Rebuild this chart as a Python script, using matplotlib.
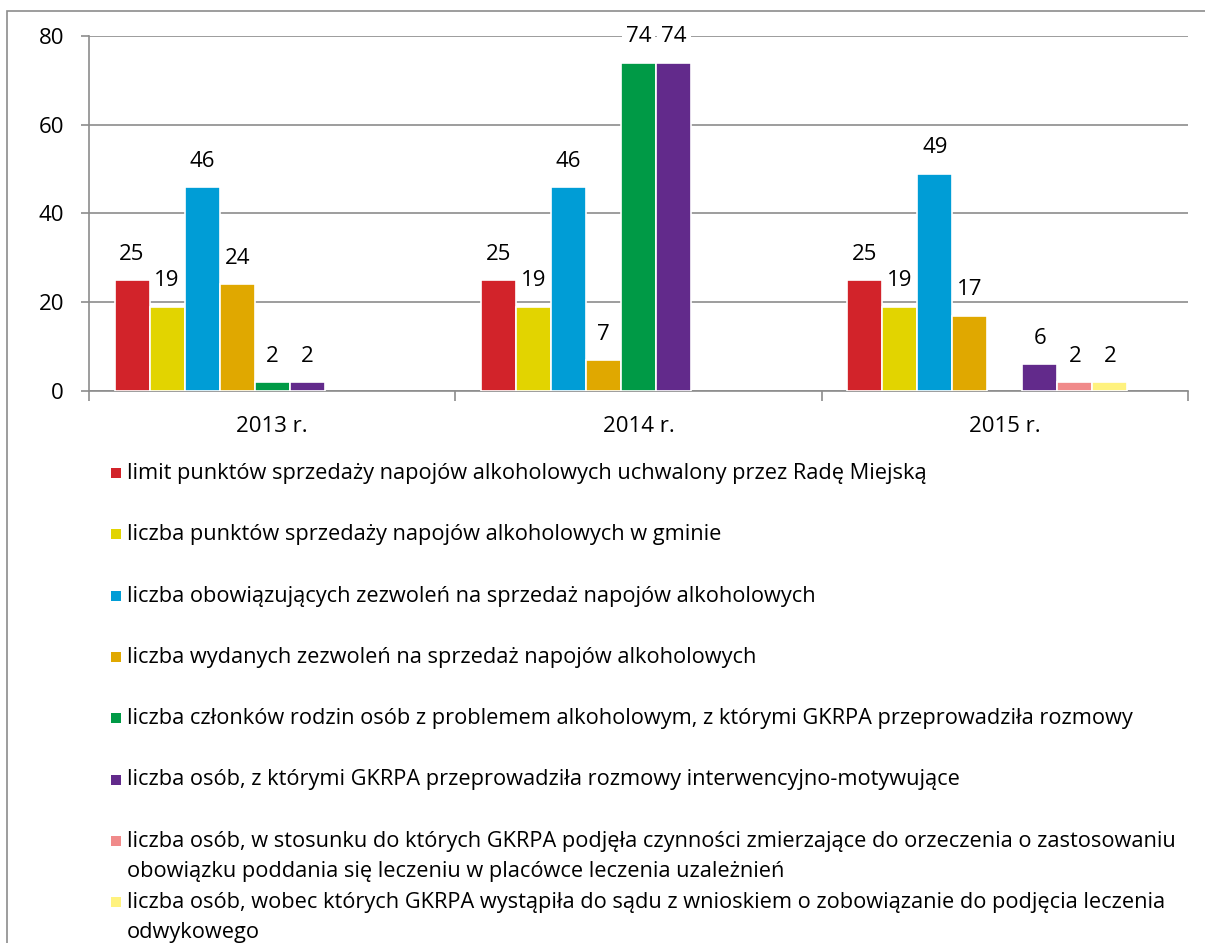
import matplotlib.pyplot as plt
import numpy as np
from matplotlib.patches import Rectangle

years = ["2013 r.", "2014 r.", "2015 r."]

series = [
    "limit punktów sprzedaży napojów alkoholowych uchwalony przez Radę Miejską",
    "liczba punktów sprzedaży napojów alkoholowych w gminie",
    "liczba obowiązujących zezwoleń na sprzedaż napojów alkoholowych",
    "liczba wydanych zezwoleń na sprzedaż napojów alkoholowych",
    "liczba członków rodzin osób z problemem alkoholowym, z którymi GKRPA przeprowadziła rozmowy",
    "liczba osób, z którymi GKRPA przeprowadziła rozmowy interwencyjno-motywujące",
    "liczba osób, w stosunku do których GKRPA podjęła czynności zmierzające do orzeczenia o zastosowaniu\nobowiązku poddania się leczeniu w placówce leczenia uzależnień",
    "liczba osób, wobec których GKRPA wystąpiła do sądu z wnioskiem o zobowiązanie do podjęcia leczenia\nodwykowego",
]

# None = no bar in that year
values = [
    [25, 25, 25],
    [19, 19, 19],
    [46, 46, 49],
    [24, 7, 17],
    [2, 74, None],
    [2, 74, 6],
    [None, None, 2],
    [None, None, 2],
]

colors = ["#D2232A", "#E2D400", "#009DD6", "#E0A800",
          "#009A46", "#622A8B", "#F08A8A", "#FFF27E"]

plt.rcParams['font.family'] = ['Open Sans', 'DejaVu Sans']

W, H = 1205, 943
fig = plt.figure(figsize=(W / 100, H / 100), dpi=100)

# outer frame
fig.patches.append(Rectangle((7 / W, -0.01), 1.0, 1 - 11 / H + 0.01, transform=fig.transFigure,
                             fill=False, edgecolor="#8c8c8c", linewidth=1.2))

ax = fig.add_axes([89 / W, 1 - 391 / H, (1188 - 89) / W, (391 - 36) / H])
ax.set_xlim(-0.5, 2.5)
ax.set_ylim(0, 80)

fs = 16
x = np.arange(len(years))
w = 35 / 366
nslots = 9
for i, (vals, col) in enumerate(zip(values, colors)):
    off = (i - (nslots - 1) / 2) * w
    for j, v in enumerate(vals):
        if v is None:
            continue
        ax.bar(x[j] + off, v, width=w, color=col, edgecolor="white", linewidth=1.2, zorder=3)
        t = ax.annotate(str(v), (x[j] + off, v), xytext=(0, 11), textcoords="offset points",
                        ha="center", va="bottom", fontsize=fs, color="black", zorder=5)
        if v > 70:
            t.set_bbox(dict(facecolor="white", edgecolor="none", pad=3))

ax.set_yticks(np.arange(0, 81, 20))
ax.yaxis.grid(True, color="#8c8c8c", linewidth=1.2, zorder=0)
ax.set_axisbelow(True)
for s in ["top", "right"]:
    ax.spines[s].set_visible(False)
for s in ["left", "bottom"]:
    ax.spines[s].set_color("#8c8c8c")
    ax.spines[s].set_linewidth(1.2)
ax.tick_params(axis="y", length=6, width=1.2, color="#8c8c8c", labelsize=fs, pad=12)
ax.set_xticks(x)
ax.set_xticklabels(years)
ax.tick_params(axis="x", length=0, labelsize=fs, pad=18)
ax.set_xticks([-0.5, 0.5, 1.5, 2.5], minor=True)
ax.tick_params(axis="x", which="minor", length=7, width=1.2, color="#8c8c8c")

# legend drawn by hand
y0 = 473
pitch = 61.3
for i, (lab, col) in enumerate(zip(series, colors)):
    yc = y0 + i * pitch
    fig.patches.append(Rectangle((111 / W, 1 - (yc + 5) / H), 10 / W, 10 / H,
                                 transform=fig.transFigure, facecolor=col, edgecolor="none"))
    fig.text(127 / W, 1 - (yc - 10) / H, lab, fontsize=15.7, va="top", ha="left",
             linespacing=1.55)

fig.savefig("out.png", dpi=100)
